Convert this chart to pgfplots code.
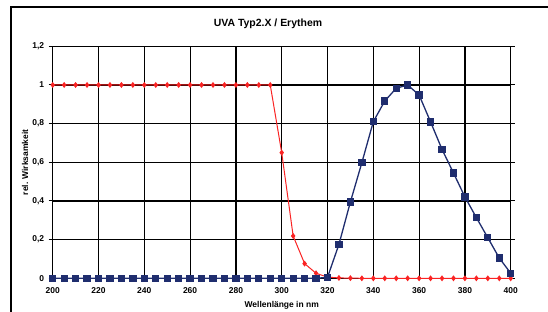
\documentclass[border=0pt]{standalone}
\usepackage{fontspec}
\setmainfont{Liberation Sans}
\usepackage{pgfplots}
\pgfplotsset{compat=1.18}
\definecolor{uvblue}{RGB}{31,45,110}
\definecolor{erred}{RGB}{250,35,35}
\begin{document}
\begin{tikzpicture}[x=1bp,y=1bp]
\useasboundingbox (0,0) rectangle (548,311);
\draw[line width=1.5bp] (11,-20) rectangle (570,304);
\begin{axis}[
  at={(52.7bp,32.7bp)}, anchor=south west,
  width=458bp, height=232bp, scale only axis,
  xmin=200, xmax=400, ymin=0, ymax=1.2,
  xtick={200,220,240,260,280,300,320,340,360,380,400},
  ytick={0,0.2,0.4,0.6,0.8,1,1.2},
  yticklabels={0,{0,2},{0,4},{0,6},{0,8},1,{1,2}},
  grid=major,
  major grid style={black, line width=1.2bp},
  axis line style={black, line width=1.5bp},
  xtick style={draw=none},
  ytick style={black, line width=1bp},
  tick align=outside,
  major tick length=4bp,
  clip=false,
  /pgf/number format/assume math mode=true,
  ticklabel style={font=\fontsize{8.5}{10}\selectfont\bfseries},
  xticklabel style={yshift=-2bp},
  yticklabel style={xshift=-1bp},
  title={UVA Typ2.X / Erythem},
  title style={font=\fontsize{10.5}{12}\selectfont\bfseries, at={(rel axis cs:0.47,1)}, anchor=center, yshift=17bp},
  xlabel={Wellenlänge in nm},
  xlabel style={font=\fontsize{8.5}{10}\selectfont\bfseries, at={(rel axis cs:0.5,0)}, anchor=center, yshift=-26.7bp},
  ylabel={rel. Wirksamkeit},
  every axis y label/.style={font=\fontsize{8.5}{10}\selectfont\bfseries, at={([xshift=-27.7bp]rel axis cs:0,0.5)}, anchor=center, rotate=90},
]
\addplot[color=erred, line width=1bp, mark=diamond*, mark size=2.2bp, mark options={fill=erred, draw=erred}] coordinates {
(200,1)(205,1)(210,1)(215,1)(220,1)(225,1)(230,1)(235,1)(240,1)(245,1)
(250,1)(255,1)(260,1)(265,1)(270,1)(275,1)(280,1)(285,1)(290,1)(295,1)
(300,0.65)(305,0.219)(310,0.076)(315,0.026)(320,0.006)(325,0.002)(330,0.001)(335,0)(340,0)(345,0)
(350,0)(355,0)(360,0)(365,0)(370,0)(375,0)(380,0)(385,0)(390,0)(395,0)(400,0)
};
\addplot[color=uvblue, line width=1.3bp, mark=square*, mark size=3bp, mark options={fill=uvblue, draw=uvblue}] coordinates {
(200,0)(205,0)(210,0)(215,0)(220,0)(225,0)(230,0)(235,0)(240,0)(245,0)
(250,0)(255,0)(260,0)(265,0)(270,0)(275,0)(280,0)(285,0)(290,0)(295,0)
(300,0)(305,0)(310,0)(315,0)(320,0.005)(325,0.176)(330,0.395)(335,0.598)(340,0.81)(345,0.917)
(350,0.983)(355,1.0)(360,0.948)(365,0.809)(370,0.667)(375,0.545)(380,0.421)(385,0.314)(390,0.21)(395,0.105)(400,0.026)
};
\end{axis}
\end{tikzpicture}
\end{document}
